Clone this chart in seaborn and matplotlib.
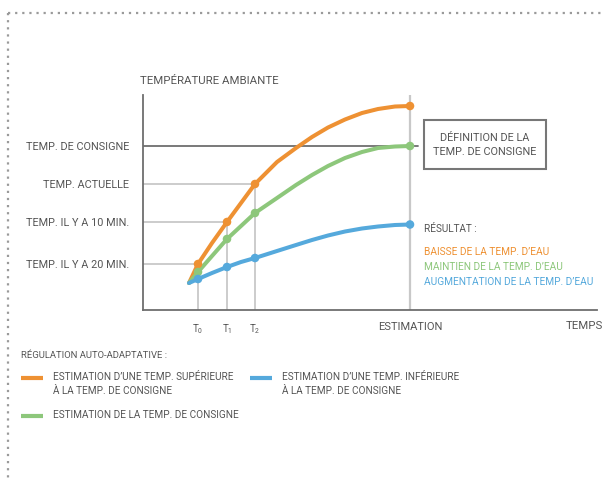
import numpy as np
import pandas as pd
import matplotlib.pyplot as plt
import seaborn as sns
from matplotlib.patches import Rectangle

sns.set_theme(style="white")
plt.rcParams['font.family'] = ['Roboto', 'DejaVu Sans']

# ───────────── data ─────────────
CURVE_X = [4.6, 5.5, 6.9, 8.4, 9.8, 11.2, 13.4, 15.3, 16.9, 18.5, 20.2, 21.9, 23.5, 25.2, 26.7]
SUP_Y   = [2.7, 4.6, 6.7, 8.8, 10.7, 12.6, 14.8, 16.2, 17.3, 18.25, 19.05, 19.7, 20.1, 20.35, 20.4]
CONS_Y  = [2.7, 3.8, 5.4, 7.1, 8.4, 9.7, 11.2, 12.5, 13.5, 14.4, 15.2, 15.8, 16.2, 16.35, 16.4]
INF_Y   = [2.7, 3.1, 3.7, 4.3, 4.8, 5.2, 5.9, 6.5, 7.0, 7.45, 7.85, 8.15, 8.35, 8.5, 8.55]

TIME_X = [5.5, 8.4, 11.2, 26.7]
TIME_LABELS = [r'$\mathregular{T_0}$', r'$\mathregular{T_1}$', r'$\mathregular{T_2}$', 'ESTIMATION']
LEVEL_Y = [4.6, 8.8, 12.6, 16.4]
LEVEL_LABELS = ['TEMP. IL Y A 20 MIN.', 'TEMP. IL Y A 10 MIN.', 'TEMP. ACTUELLE', 'TEMP. DE CONSIGNE']

SERIES = ['sup', 'cons', 'inf']
LEGEND_LABELS = ['ESTIMATION D’UNE TEMP. SUPÉRIEURE\nÀ LA TEMP. DE CONSIGNE',
                 'ESTIMATION DE LA TEMP. DE CONSIGNE',
                 'ESTIMATION D’UNE TEMP. INFÉRIEURE\nÀ LA TEMP. DE CONSIGNE']
RESULT_LABELS = ['BAISSE DE LA TEMP. D’EAU', 'MAINTIEN DE LA TEMP. D’EAU',
                 'AUGMENTATION DE LA TEMP. D’EAU']
COLORS = {'sup': '#EE9133', 'cons': '#8DC77B', 'inf': '#55A9DC'}
TXT = '#555555'

df = pd.concat([pd.DataFrame({'x': CURVE_X, 'y': ys, 'serie': s})
                for s, ys in zip(SERIES, [SUP_Y, CONS_Y, INF_Y])], ignore_index=True)
marks = df[df['x'].isin(TIME_X)]

# ───────────── figure ─────────────
fig = plt.figure(figsize=(6.04, 4.78), dpi=100)

# overlay in pixel units for frame + annotations
ov = fig.add_axes([0, 0, 1, 1])
ov.set_xlim(0, 604)
ov.set_ylim(478, 0)
ov.axis('off')
ov.plot([8, 604], [13, 13], color='#9a9a9a', lw=1.6, linestyle=(0, (1, 2.2)))
ov.plot([8, 8], [13, 478], color='#9a9a9a', lw=1.6, linestyle=(0, (1, 2.2)))

ax = fig.add_axes([143 / 604, 1 - 310 / 478, (597 - 143) / 604, (310 - 95) / 478])
ax.patch.set_alpha(0)
ax.set_xlim(0, 45.4)
ax.set_ylim(0, 21.5)

# guide lines
for tx, ly in zip(TIME_X[:3], LEVEL_Y[:3]):
    ax.plot([0, tx], [ly, ly], color='#c8c8c8', lw=1.3, zorder=1)
    ax.plot([tx, tx], [0, ly], color='#c8c8c8', lw=1.3, zorder=1)
ax.plot([0, 27.5], [LEVEL_Y[3], LEVEL_Y[3]], color='#6e6e6e', lw=1.3, zorder=1)
ax.axvline(TIME_X[3], color='#c8c8c8', lw=1.6, zorder=1)

sns.lineplot(data=df, x='x', y='y', hue='serie', palette=COLORS, sort=False,
             lw=2.9, ax=ax, legend=False, zorder=3, solid_joinstyle='round',
             solid_capstyle='round')
sns.scatterplot(data=marks, x='x', y='y', hue='serie', palette=COLORS, s=38,
                edgecolor='none', ax=ax, legend=False, zorder=4)

for side in ['top', 'right']:
    ax.spines[side].set_visible(False)
for side in ['left', 'bottom']:
    ax.spines[side].set_color('#6e6e6e')
    ax.spines[side].set_linewidth(1.3)

ax.set_xticks(TIME_X)
ax.set_xticklabels(TIME_LABELS, fontsize=7, color=TXT)
ax.get_xticklabels()[3].set_fontsize(8.0)
ax.set_yticks(LEVEL_Y)
ax.set_yticklabels(LEVEL_LABELS, fontsize=7.8, color=TXT)
ax.tick_params(axis='both', length=0)
ax.tick_params(axis='y', pad=10)
ax.tick_params(axis='x', pad=9)
ax.set_xlabel('')
ax.set_ylabel('')

# annotations
ov.text(140, 81, 'TEMPÉRATURE AMBIANTE', fontsize=8.2, color=TXT, va='center', ha='left')
ov.text(603, 326, 'TEMPS', fontsize=8.2, color=TXT, va='center', ha='right')
ov.add_patch(Rectangle((424, 120), 122, 49, fill=False, edgecolor='#777777', lw=1.5))
ov.text(485, 145, 'DÉFINITION DE LA\nTEMP. DE CONSIGNE', fontsize=7.8, color=TXT,
        ha='center', va='center', linespacing=1.45)
ov.text(424, 229, 'RÉSULTAT :', fontsize=7.2, color=TXT, va='center')
for i, (lab, s) in enumerate(zip(RESULT_LABELS, SERIES)):
    ov.text(424, 252 + 15 * i, lab, fontsize=7.3, color=COLORS[s], va='center')

# bottom legend
ov.text(21, 355, 'RÉGULATION AUTO-ADAPTATIVE :', fontsize=6.8, color=TXT, va='center')
LEG_POS = [(21, 378), (21, 416), (250, 378)]
for (lx, ly), lab, s in zip(LEG_POS, LEGEND_LABELS, SERIES):
    ov.plot([lx, lx + 22], [ly, ly], color=COLORS[s], lw=3.0, solid_capstyle='butt')
    ov.text(lx + 32, ly - 6.5, lab, fontsize=7.2, color=TXT, va='top', linespacing=1.6)

fig.savefig('out.png', dpi=100)
